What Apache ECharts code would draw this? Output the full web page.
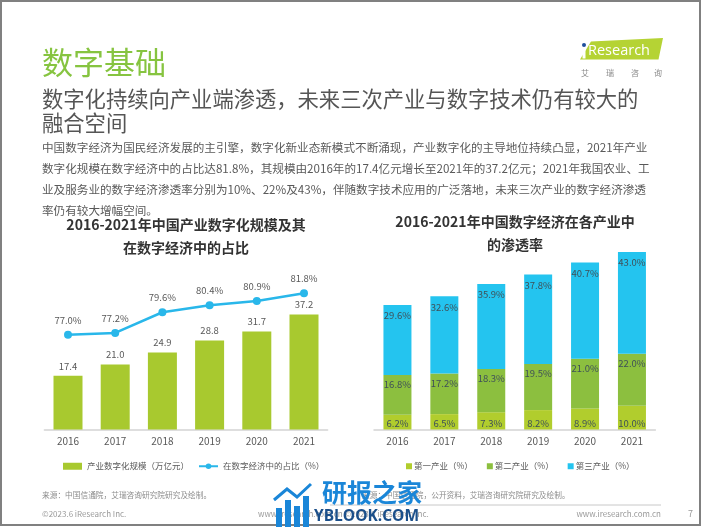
<!DOCTYPE html>
<html><head><meta charset="utf-8">
<script src="https://cdn.jsdelivr.net/npm/echarts@6/dist/echarts.min.js"></script>
<style>html,body{margin:0;padding:0;background:#fff}#c{width:702px;height:527px}</style>
</head><body><div id="c"></div>
<script>
const years = ['2016','2017','2018','2019','2020','2021'];
const scaleValues = [17.4, 21.0, 24.9, 28.8, 31.7, 37.2];
const shareValues = [77.0, 77.2, 79.6, 80.4, 80.9, 81.8];
const primaryValues = [6.2, 6.5, 7.3, 8.2, 8.9, 10.0];
const secondaryValues = [16.8, 17.2, 18.3, 19.5, 21.0, 22.0];
const tertiaryValues = [29.6, 32.6, 35.9, 37.8, 40.7, 43.0];
const seriesNames = ['产业数字化规模（万亿元）','在数字经济中的占比（%）','第一产业（%）','第二产业（%）','第三产业（%）'];

const FF = '"Noto Sans CJK SC","Noto Sans",sans-serif';
const chart = echarts.init(document.getElementById('c'));
function txt(text, x, y, size, fill, extra) {
  return Object.assign({type:'text', style:Object.assign({text, x, y, fontSize:size, fill, fontFamily:FF, verticalAlign:'middle'}, extra||{})});
}
const body = [
 '中国数字经济为国民经济发展的主引擎，数字化新业态新模式不断涌现，产业数字化的主导地位持续凸显，2021年产业',
 '数字化规模在数字经济中的占比达81.8%，其规模由2016年的17.4亿元增长至2021年的37.2亿元；2021年我国农业、工',
 '业及服务业的数字经济渗透率分别为10%、22%及43%，伴随数字技术应用的广泛落地，未来三次产业的数字经济渗透',
 '率仍有较大增幅空间。'
];
const graphics = [
  {type:'rect', shape:{x:1,y:1,width:699,height:524}, style:{fill:'none', stroke:'#808080', lineWidth:2}},
  txt('数字基础', 42, 62, 31, '#86c440'),
  txt('数字化持续向产业端渗透，未来三次产业与数字技术仍有较大的', 42, 99, 21.3, '#555555'),
  txt('融合空间', 42, 122.5, 21.3, '#555555'),
  // logo
  {type:'polygon', shape:{points:[[591,41.5],[663,38],[658.5,59.5],[580,59.5]]}, style:{fill:'#b5d334'}},
  {type:'circle', shape:{cx:584, cy:45, r:2}, style:{fill:'#1f4e9c'}},
  {type:'rect', shape:{x:582.5, y:48.5, width:3, height:10}, style:{fill:'#fff'}},
  txt('Research', 588, 50.5, 14.5, '#ffffff', {fontFamily:'"Open Sans",sans-serif'}),
  txt('艾', 585, 73, 8, '#888', {align:'center'}),
  txt('瑞', 610, 73, 8, '#888', {align:'center'}),
  txt('咨', 635, 73, 8, '#888', {align:'center'}),
  txt('询', 658, 73, 8, '#888', {align:'center'}),
  // chart titles
  txt('2016-2021年中国产业数字化规模及其', 186, 225, 14, '#333', {align:'center', fontWeight:'bold'}),
  txt('在数字经济中的占比', 186, 248, 14, '#333', {align:'center', fontWeight:'bold'}),
  txt('2016-2021年中国数字经济在各产业中', 515, 222, 14, '#333', {align:'center', fontWeight:'bold'}),
  txt('的渗透率', 515, 245, 14, '#333', {align:'center', fontWeight:'bold'}),
  // footer
  txt('来源：中国信通院，艾瑞咨询研究院研究及绘制。', 42, 495, 7.7, '#8c8c8c'),
  txt('来源：中国信通院，公开资料，艾瑞咨询研究院研究及绘制。', 362, 495, 7.7, '#8c8c8c'),
  {type:'line', shape:{x1:330, y1:505, x2:661, y2:505}, style:{stroke:'#c8c8c8', lineWidth:1}},
  txt('©2023.6 iResearch Inc.', 42, 514, 8, '#999'),
  txt('www.iresearch.com.cn ©2023.6 iResearch Inc.', 258, 514, 8, '#999'),
  txt('www.iresearch.com.cn', 661, 514, 8, '#999', {align:'right'}),
  txt('7', 688, 514, 9, '#999'),
  // watermark
  {type:'rect', shape:{x:276, y:508, width:6, height:19}, style:{fill:'#1a86d8'}},
  {type:'rect', shape:{x:285, y:500, width:6, height:27}, style:{fill:'#1a86d8'}},
  {type:'rect', shape:{x:294, y:506, width:6, height:21}, style:{fill:'#1a86d8'}},
  {type:'rect', shape:{x:303, y:496, width:6, height:31}, style:{fill:'#1a86d8'}},
  {type:'polyline', shape:{points:[[274,500],[287,489],[297,497],[311,484]]}, style:{stroke:'#1a86d8', lineWidth:3, fill:'none'}},
  txt('研报之家', 322, 492, 25, '#1a86d8', {fontWeight:'bold'}),
  txt('YBLOOK.COM', 314, 517, 15.5, '#1b4f8a', {fontWeight:'bold', fontFamily:'"Open Sans",sans-serif'})
];
body.forEach((t,i)=>graphics.push(txt(t, 42, 148 + i*21, 11.6, '#595959')));

const axisX = (gi) => ({type:'category', gridIndex:gi, data:years,
  axisLine:{lineStyle:{color:'#d4d4d4', width:1.5}}, axisTick:{show:false},
  axisLabel:{color:'#595959', fontSize:10, margin:7, fontFamily:FF}});
const hiddenY = (gi, min, max) => ({type:'value', gridIndex:gi, min, max, show:false, splitLine:{show:false}});
const lbl = (pos, dist, pct) => ({show:true, position:pos, distance:dist, fontSize:9.5, fontFamily:FF,
  color: pos==='top' ? '#595959' : '#3f5058',
  formatter: p => p.value.toFixed(1) + (pct ? '%' : '')});

chart.setOption({
  animation:false,
  graphic: graphics,
  grid:[{left:44.4, width:283.2, top:270, height:159.5}, {left:374, width:281.4, top:229.5, height:200}],
  xAxis:[axisX(0), axisX(1)],
  yAxis:[hiddenY(0,0,51.6), hiddenY(0,66,84.5), hiddenY(1,0,84.5)],
  legend:[
    {data:[{name:seriesNames[0], icon:'rect'}, {name:seriesNames[1]}], left:58, top:457, itemWidth:19, itemHeight:7, itemGap:9,
     textStyle:{fontSize:8.5, color:'#595959', fontFamily:FF}},
    {data:[seriesNames[2], seriesNames[3], seriesNames[4]], icon:'rect', left:401, top:457, itemWidth:6, itemHeight:6, itemGap:14,
     textStyle:{fontSize:8.5, color:'#595959', fontFamily:FF, padding:[0,0,0,-3]}}
  ],
  series:[
    {name:seriesNames[0], type:'bar', xAxisIndex:0, yAxisIndex:0, data:scaleValues, barWidth:29,
     itemStyle:{color:'#a8c92f'}, label:lbl('top',5,false)},
    {name:seriesNames[1], type:'line', xAxisIndex:0, yAxisIndex:1, data:shareValues, symbol:'circle', symbolSize:8,
     itemStyle:{color:'#29b7ea'}, lineStyle:{color:'#29b7ea', width:2.5}, label:lbl('top',6,true)},
    {name:seriesNames[2], type:'bar', stack:'p', xAxisIndex:1, yAxisIndex:2, data:primaryValues, barWidth:28,
     itemStyle:{color:'#b1cd2d'}, label:lbl('insideBottom',1,true)},
    {name:seriesNames[3], type:'bar', stack:'p', xAxisIndex:1, yAxisIndex:2, data:secondaryValues, barWidth:28,
     itemStyle:{color:'#8cbf3f'}, label:lbl('insideTop',5,true)},
    {name:seriesNames[4], type:'bar', stack:'p', xAxisIndex:1, yAxisIndex:2, data:tertiaryValues, barWidth:28,
     itemStyle:{color:'#24c4ef'}, label:lbl('insideTop',6,true)}
  ]
});
</script></body></html>
